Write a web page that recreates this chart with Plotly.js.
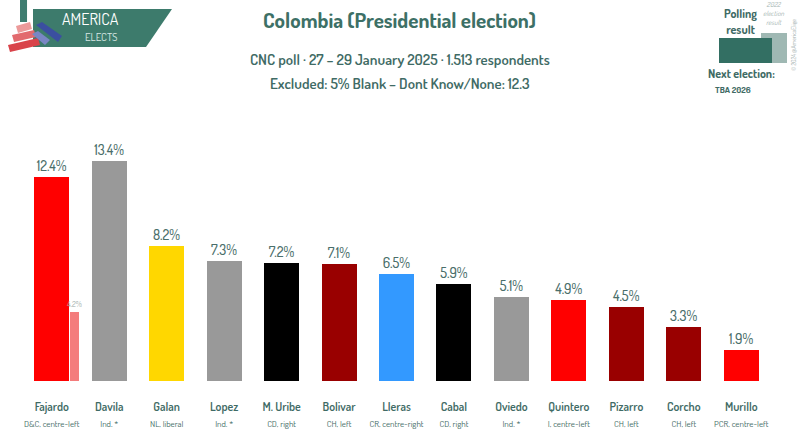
<!DOCTYPE html>
<html>
<head>
<meta charset="utf-8">
<script src="https://cdn.plot.ly/plotly-3.0.1.min.js"></script>
<style>html,body{margin:0;padding:0;background:#fff;}#chart{width:800px;height:434px;}</style>
</head>
<body>
<div id="chart"></div>
<script>
const candidates = ['Fajardo','Davila','Galan','Lopez','M. Uribe','Bolivar','Lleras','Cabal','Oviedo','Quintero','Pizarro','Corcho','Murillo'];
const parties = ['D&amp;C, centre-left','Ind. *','NL, liberal','Ind. *','CD, right','CH, left','CR, centre-right','CD, right','Ind. *','I, centre-left','CH, left','CH, left','PCR, centre-left'];
const poll = [12.4,13.4,8.2,7.3,7.2,7.1,6.5,5.9,5.1,4.9,4.5,3.3,1.9];
const result2022 = [4.2,null,null,null,null,null,null,null,null,null,null,null,null];
const barColors = ['#ff0000','#999999','#ffd700','#999999','#000000','#990000','#3399ff','#000000','#999999','#ff0000','#990000','#990000','#ff0000'];
const prevColors = ['#f47c7c','#cccccc','#ffe680','#cccccc','#777777','#c06060','#8cc4ff','#777777','#cccccc','#f47c7c','#c06060','#c06060','#f47c7c'];

const FONT = "Dosis, 'Liberation Sans Narrow', sans-serif";
const TXT = '#3f6b65';
const L = 23, R = 770, T = 118, B = 381;
const fx = px => (px - L) / (R - L);
const fy = py => (B - py) / (B - T);

const ticktext = candidates.map((c, i) => '<span style="font-size:12px;font-weight:600">' + c + '</span><br><span style="font-size:9px">' + parties[i] + '</span>');

const traces = [
  {
    type: 'bar', x: candidates, y: poll,
    marker: {color: barColors},
    width: 0.61, offset: -0.305,
    text: poll.map(v => v.toFixed(1) + '%'),
    textposition: 'outside', cliponaxis: false, constraintext: 'none',
    textfont: {family: FONT, size: 14, color: '#4a6e6a', weight: 500},
    hoverinfo: 'x+y', showlegend: false
  },
  {
    type: 'bar', x: candidates, y: result2022,
    marker: {color: prevColors},
    width: 0.17, offset: 0.31,
    text: result2022.map(v => v == null ? '' : v.toFixed(1) + '%'),
    textposition: 'outside', cliponaxis: false, constraintext: 'none',
    textfont: {family: FONT, size: 8, color: '#9aa9a6'},
    hoverinfo: 'x+y', showlegend: false
  }
];

const p = (px, py) => fx(px).toFixed(4) + ' ' + fy(py).toFixed(4);
const shapes = [
  {type: 'path', xref: 'paper', yref: 'paper', path: 'M ' + p(20,0) + ' L ' + p(27,0) + ' L ' + p(27,22) + ' L ' + p(20,22) + ' Z', fillcolor: '#3f7d70', line: {width: 0}},
  {type: 'path', xref: 'paper', yref: 'paper', path: 'M ' + p(33,9) + ' L ' + p(172,9) + ' L ' + p(146,47) + ' L ' + p(33,47) + ' Z', fillcolor: '#3d7b6c', line: {width: 0}},
  {type: 'path', xref: 'paper', yref: 'paper', path: 'M ' + p(8,45) + ' L ' + p(38,38) + ' L ' + p(40,45) + ' L ' + p(10,52) + ' Z', fillcolor: '#d9434a', line: {width: 0}},
  {type: 'path', xref: 'paper', yref: 'paper', path: 'M ' + p(12,35) + ' L ' + p(34,30) + ' L ' + p(36,37) + ' L ' + p(14,42) + ' Z', fillcolor: '#e26a6e', line: {width: 0}},
  {type: 'path', xref: 'paper', yref: 'paper', path: 'M ' + p(16,26) + ' L ' + p(30,22) + ' L ' + p(32,29) + ' L ' + p(18,33) + ' Z', fillcolor: '#ec9a9a', line: {width: 0}},
  {type: 'path', xref: 'paper', yref: 'paper', path: 'M ' + p(36,25) + ' L ' + p(42,22) + ' L ' + p(62,36) + ' L ' + p(58,42) + ' Z', fillcolor: '#3b4fa0', line: {width: 0}},
  {type: 'path', xref: 'paper', yref: 'paper', path: 'M ' + p(32,34) + ' L ' + p(38,31) + ' L ' + p(50,40) + ' L ' + p(45,45) + ' Z', fillcolor: '#7a86c4', line: {width: 0}},
  {type: 'rect', xref: 'paper', yref: 'paper', x0: fx(761), x1: fx(787), y0: fy(63), y1: fy(33), fillcolor: '#9fb8b3', line: {width: 0}},
  {type: 'rect', xref: 'paper', yref: 'paper', x0: fx(719), x1: fx(772), y0: fy(63), y1: fy(38), fillcolor: '#336f63', line: {width: 0}}
];

const ann = (text, px, py, size, color, extra) => Object.assign({
  text: text, xref: 'paper', yref: 'paper', x: fx(px), y: fy(py),
  showarrow: false, font: {family: FONT, size: size, color: color},
  xanchor: 'center', yanchor: 'middle'
}, extra || {});

const annotations = [
  ann('<b>Colombia (Presidential election)</b>', 399, 20, 21, '#3d7066'),
  ann('<span style="font-weight:600">CNC poll · 27 – 29 January 2025 · 1.513 respondents</span>', 400, 60, 15, '#3f6b65'),
  ann('<span style="font-weight:600">Excluded: 5% Blank – Dont Know/None: 12.3</span>', 400, 83, 15, '#3f6b65'),
  ann('AMERICA', 90, 19, 16, '#ffffff'),
  ann('ELECTS', 101, 37, 11, '#d9e8e4'),
  ann('<b>Polling<br>result</b>', 740, 21, 12, '#3f6b65'),
  ann('<i>2022<br>election<br>result</i>', 773, 13, 7, '#9fb3af'),
  ann('<b>Next election:</b>', 741, 74, 12, '#3f6b65'),
  ann('<b>TBA 2026</b>', 713, 89, 9, '#3f6b65', {xanchor: 'left'}),
  ann('© 2024 @AmericaElige', 794, 45, 6, '#9aaaa7', {textangle: -90})
];

const layout = {
  width: 800, height: 434,
  margin: {l: L, r: 800 - R, t: T, b: 434 - B},
  paper_bgcolor: '#ffffff', plot_bgcolor: '#ffffff',
  barmode: 'overlay', bargap: 0,
  font: {family: FONT, color: TXT},
  xaxis: {
    type: 'category', tickvals: candidates, ticktext: ticktext,
    tickfont: {family: FONT, size: 12, color: TXT},
    showgrid: false, showline: false, zeroline: false, ticks: '',
    range: [-0.5, 12.5], ticklabelstandoff: 17
  },
  yaxis: {range: [0, 16], visible: false, showgrid: false, zeroline: false, fixedrange: true},
  shapes: shapes,
  annotations: annotations,
  showlegend: false
};

Plotly.newPlot('chart', traces, layout, {displayModeBar: false, staticPlot: true});
</script>
</body>
</html>
